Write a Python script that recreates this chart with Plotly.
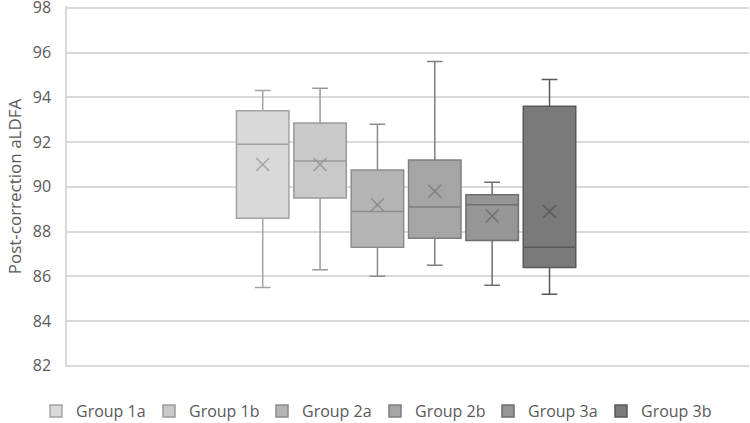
import plotly.graph_objects as go

groups = ["Group 1a", "Group 1b", "Group 2a", "Group 2b", "Group 3a", "Group 3b"]
mins = [85.5, 86.3, 86.0, 86.5, 85.6, 85.2]
q1s = [88.6, 89.5, 87.3, 87.7, 87.6, 86.4]
medians = [91.9, 91.15, 88.9, 89.1, 89.2, 87.3]
q3s = [93.4, 92.85, 90.75, 91.2, 89.65, 93.6]
maxs = [94.3, 94.4, 92.8, 95.6, 90.2, 94.8]
means = [91.0, 91.0, 89.2, 89.8, 88.7, 88.9]

fills = ["#d9d9d9", "#c9c9c9", "#b4b4b4", "#a5a5a5", "#969696", "#7a7a7a"]
lines = ["#a3a3a3", "#9a9a9a", "#8c8c8c", "#7f7f7f", "#6e6e6e", "#585858"]

fig = go.Figure()
for i, g in enumerate(groups):
    fig.add_trace(go.Box(
        name=g, x=[i], q1=[q1s[i]], median=[medians[i]], q3=[q3s[i]],
        lowerfence=[mins[i]], upperfence=[maxs[i]],
        fillcolor=fills[i], line=dict(color=lines[i], width=1.5),
        width=0.915, whiskerwidth=0.3, boxpoints=False,
        legendgroup=g, showlegend=True,
    ))
    fig.add_trace(go.Scatter(
        x=[i], y=[means[i]], mode="markers",
        marker=dict(symbol="x-thin-open", size=13, color=lines[i],
                    line=dict(color=lines[i], width=1.5)),
        legendgroup=g, showlegend=False, hoverinfo="skip",
    ))

font_family = "Open Sans, sans-serif"
fig.update_layout(
    width=750, height=423,
    margin=dict(l=67, r=1, t=6, b=56, autoexpand=False),
    paper_bgcolor="white", plot_bgcolor="white",
    font=dict(family=font_family, size=16, color="#595959"),
    boxmode="overlay",
    xaxis=dict(range=[-3.412, 8.478], showticklabels=False, showgrid=False,
               zeroline=False, showline=False, fixedrange=True, automargin=False),
    yaxis=dict(range=[81.95, 98.08], tickvals=[82, 84, 86, 88, 90, 92, 94, 96, 98],
               showgrid=True, gridcolor="#d9d9d9", gridwidth=1.5, zeroline=False,
               showline=True, linecolor="#d9d9d9", linewidth=1.5,
               automargin=False,
               ticklabelstandoff=11, ticklabeloverflow="allow",
               tickfont=dict(size=16, color="#595959"),
               title=dict(text="Post-correction aLDFA", standoff=7,
                          font=dict(size=17, color="#595959"))),
    legend=dict(orientation="h", xref="container", yref="container",
                x=0.5, xanchor="center", y=0.028, yanchor="middle",
                font=dict(size=16, color="#595959"), itemwidth=30,
                entrywidth=68, traceorder="normal"),
    showlegend=True,
)

fig.write_html("out.html")
